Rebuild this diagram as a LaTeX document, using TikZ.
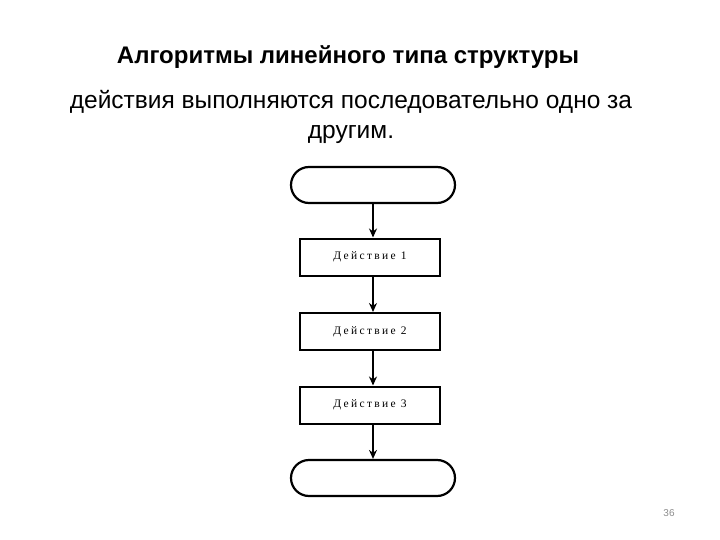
\documentclass[tikz,border=0pt]{standalone}
\usepackage{fontspec}
\setmainfont{Liberation Sans}
\newfontfamily\boxfont[LetterSpace=20]{Liberation Serif}
\usetikzlibrary{arrows.meta,shapes.misc}
\begin{document}
\begin{tikzpicture}[x=1pt,y=-1pt,
  term/.style={draw,line width=2.2pt,rounded rectangle,minimum width=164pt,minimum height=36pt,inner sep=0pt},
  act/.style={draw,line width=2pt,rectangle,minimum width=140pt,minimum height=37pt,inner sep=0pt,font=\boxfont\fontsize{11.5}{13}\selectfont},
  flow/.style={line width=1.6pt,-{Stealth[length=9pt,width=8pt]}}]
\useasboundingbox (0,0) rectangle (720,540);
\node[font=\bfseries\fontsize{24}{28}\selectfont] (title) at (348,57) {Алгоритмы линейного типа структуры};
\node[font=\fontsize{24.5}{30}\selectfont,align=center] (desc) at (351,117) {действия выполняются последовательно одно за\\другим.};
\node[term] (start) at (373,185) {};
\node[act] (a1) at (370,257) {Действие 1};
\node[act] (a2) at (370,331.5) {Действие 2};
\node[act] (a3) at (370,405) {Действие 3};
\node[term] (stop) at (373,478) {};
\draw[flow] (start.south) -- (a1.north -| start.south);
\draw[flow] (a1.south -| start.south) -- (a2.north -| start.south);
\draw[flow] (a2.south -| start.south) -- (a3.north -| start.south);
\draw[flow] (a3.south -| start.south) -- (stop.north);
\node[text=black!45,font=\fontsize{10}{12}\selectfont] (page) at (669,513) {36};
\end{tikzpicture}
\end{document}
